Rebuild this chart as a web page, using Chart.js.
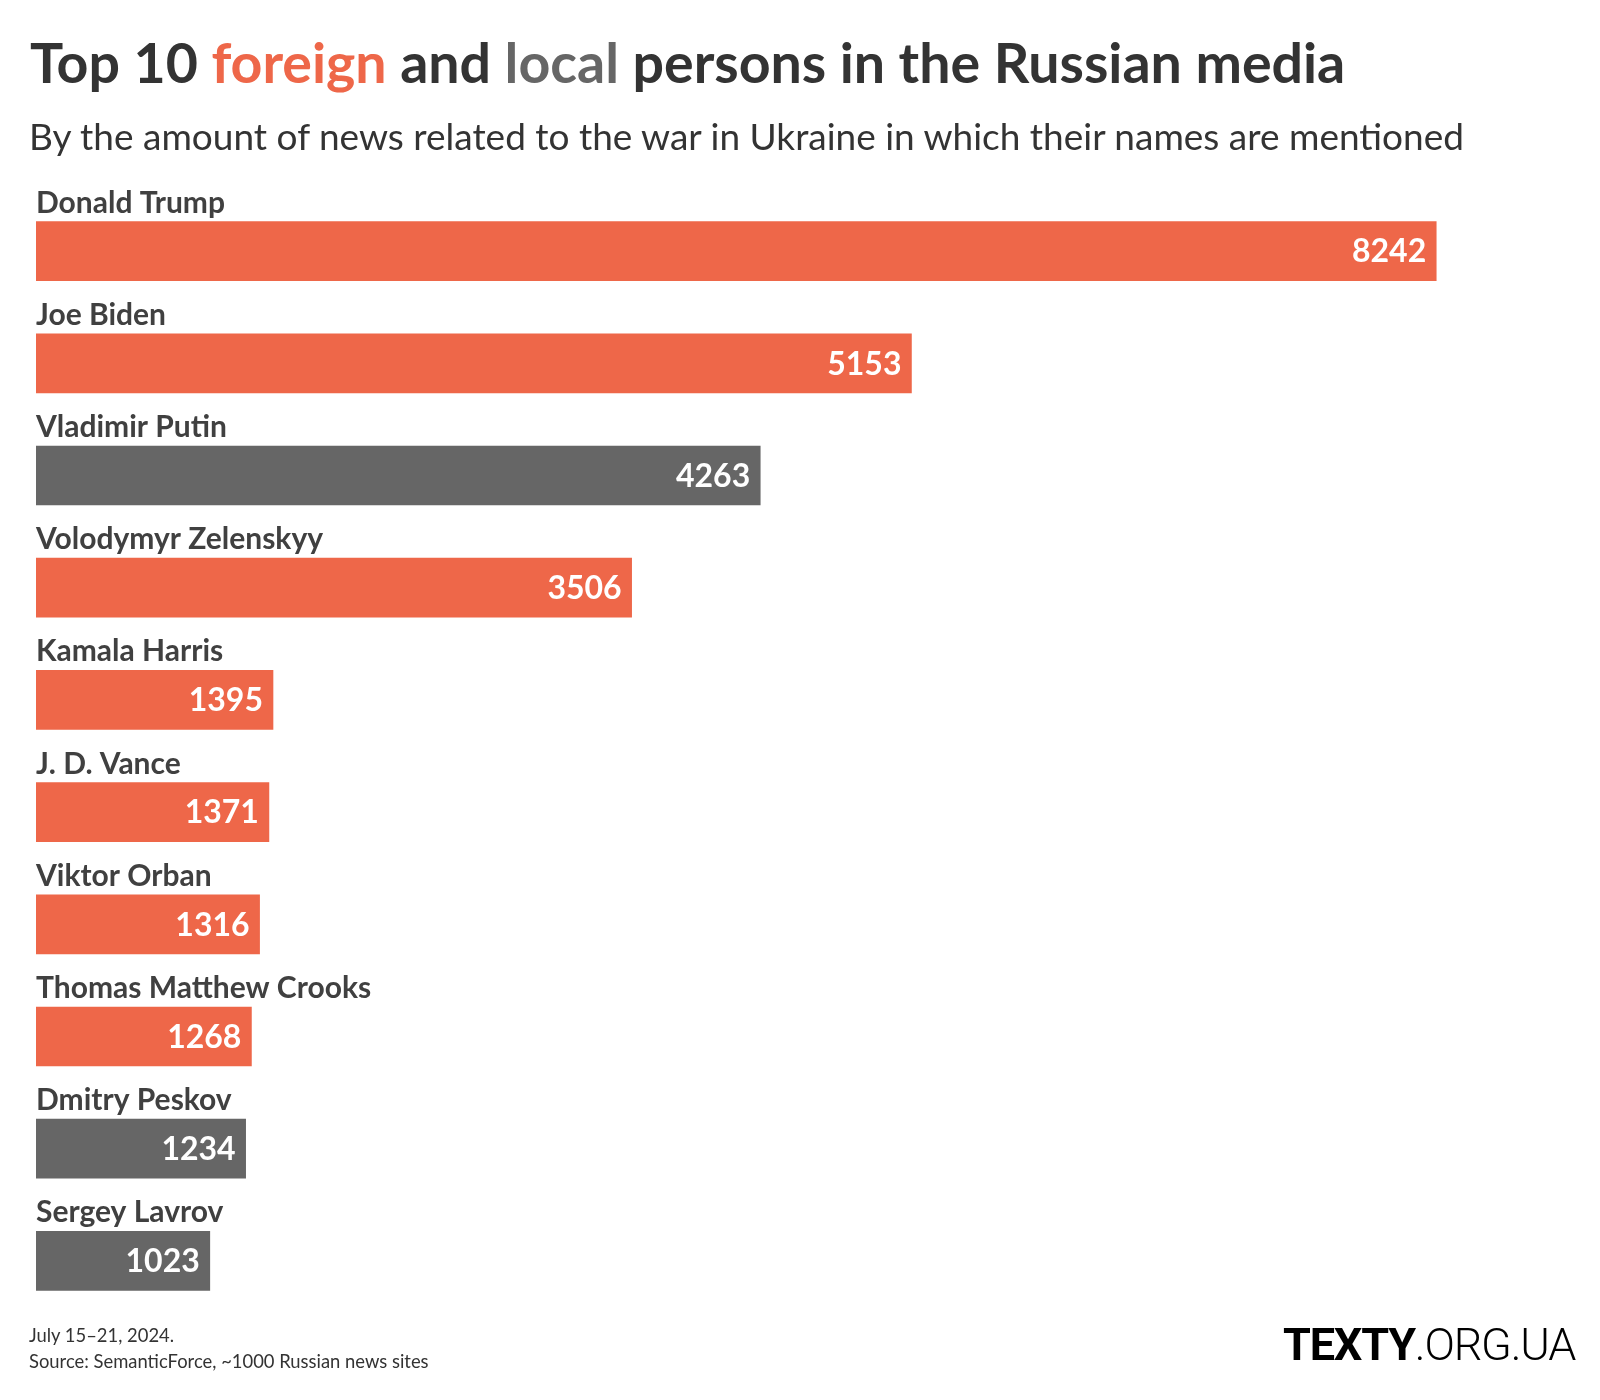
<!DOCTYPE html>
<html>
<head>
<meta charset="utf-8">
<script src="https://cdn.jsdelivr.net/npm/chart.js@4"></script>
<style>
  body { margin: 0; background: #fff; }
  #wrap { position: relative; width: 1600px; height: 1400px; font-family: Lato, sans-serif; color: #333; }
  #wrap canvas { position: absolute; left: 0; top: 0; }
  .t { position: absolute; white-space: nowrap; line-height: 1; }
  #title { left: 30px; top: 34px; font-size: 55.5px; font-weight: 700; }
  #sub { left: 29px; top: 117px; font-size: 37px; font-weight: 400; }
  #date { left: 29px; top: 1326px; font-size: 18.4px; }
  #src { left: 29px; top: 1352px; font-size: 18.4px; }
  #logo { left: 1283px; top: 1322px; font-family: Roboto, sans-serif; font-size: 45px; color: #000; letter-spacing: -1.2px; }
</style>
</head>
<body>
<div id="wrap">
  <canvas id="myChart" width="1600" height="1400"></canvas>
  <div class="t" id="title">Top 10 <span style="color:#ee6749">foreign</span> and <span style="color:#666">local</span> persons in the Russian media</div>
  <div class="t" id="sub">By the amount of news related to the war in Ukraine in which their names are mentioned</div>
  <div class="t" id="date">July 15–21, 2024.</div>
  <div class="t" id="src">Source: SemanticForce, ~1000 Russian news sites</div>
  <div class="t" id="logo"><b style="font-weight:700">TEXTY</b><span style="font-weight:300">.ORG.UA</span></div>
</div>
<script>
var names = ["Donald Trump", "Joe Biden", "Vladimir Putin", "Volodymyr Zelenskyy", "Kamala Harris",
    "J. D. Vance", "Viktor Orban", "Thomas Matthew Crooks", "Dmitry Peskov", "Sergey Lavrov"];
var mentions = [8242, 5153, 4263, 3506, 1395, 1371, 1316, 1268, 1234, 1023];
var group = ["foreign", "foreign", "local", "foreign", "foreign", "foreign", "foreign", "foreign", "local", "local"];

var colours = { foreign: '#ee6749', local: '#666666' };

// names above each bar, numbers inside the bar end
var barText = {
    id: 'barText',
    afterDatasetsDraw: function(chart) {
        var ctx = chart.ctx;
        var meta = chart.getDatasetMeta(0);
        ctx.save();
        meta.data.forEach(function(bar, i) {
            var top = bar.y - bar.height / 2;
            ctx.fillStyle = '#404040';
            ctx.font = '700 30px Lato';
            ctx.textAlign = 'left';
            ctx.textBaseline = 'alphabetic';
            ctx.fillText(names[i], bar.base, top - 9);
            ctx.fillStyle = '#fff';
            ctx.font = '700 32px Lato';
            ctx.textAlign = 'right';
            ctx.textBaseline = 'middle';
            ctx.fillText(mentions[i], bar.x - 10, bar.y + 1);
        });
        ctx.restore();
    }
};

var ctx = document.getElementById('myChart').getContext('2d');
var chart = new Chart(ctx, {
    type: 'bar',
    data: {
        labels: names,
        datasets: [{
            data: mentions,
            backgroundColor: group.map((g) => colours[g]),
            barThickness: 59,
            borderWidth: 0
        }]
    },
    options: {
        indexAxis: 'y',
        responsive: false,
        animation: false,
        layout: { padding: { left: 36, right: 35, top: 195, bottom: 83 } },
        plugins: { legend: { display: false }, tooltip: { enabled: false } },
        scales: {
            x: { display: false, min: 0, max: 9000 },
            y: { display: false }
        }
    },
    plugins: [barText]
});
</script>
</body>
</html>
